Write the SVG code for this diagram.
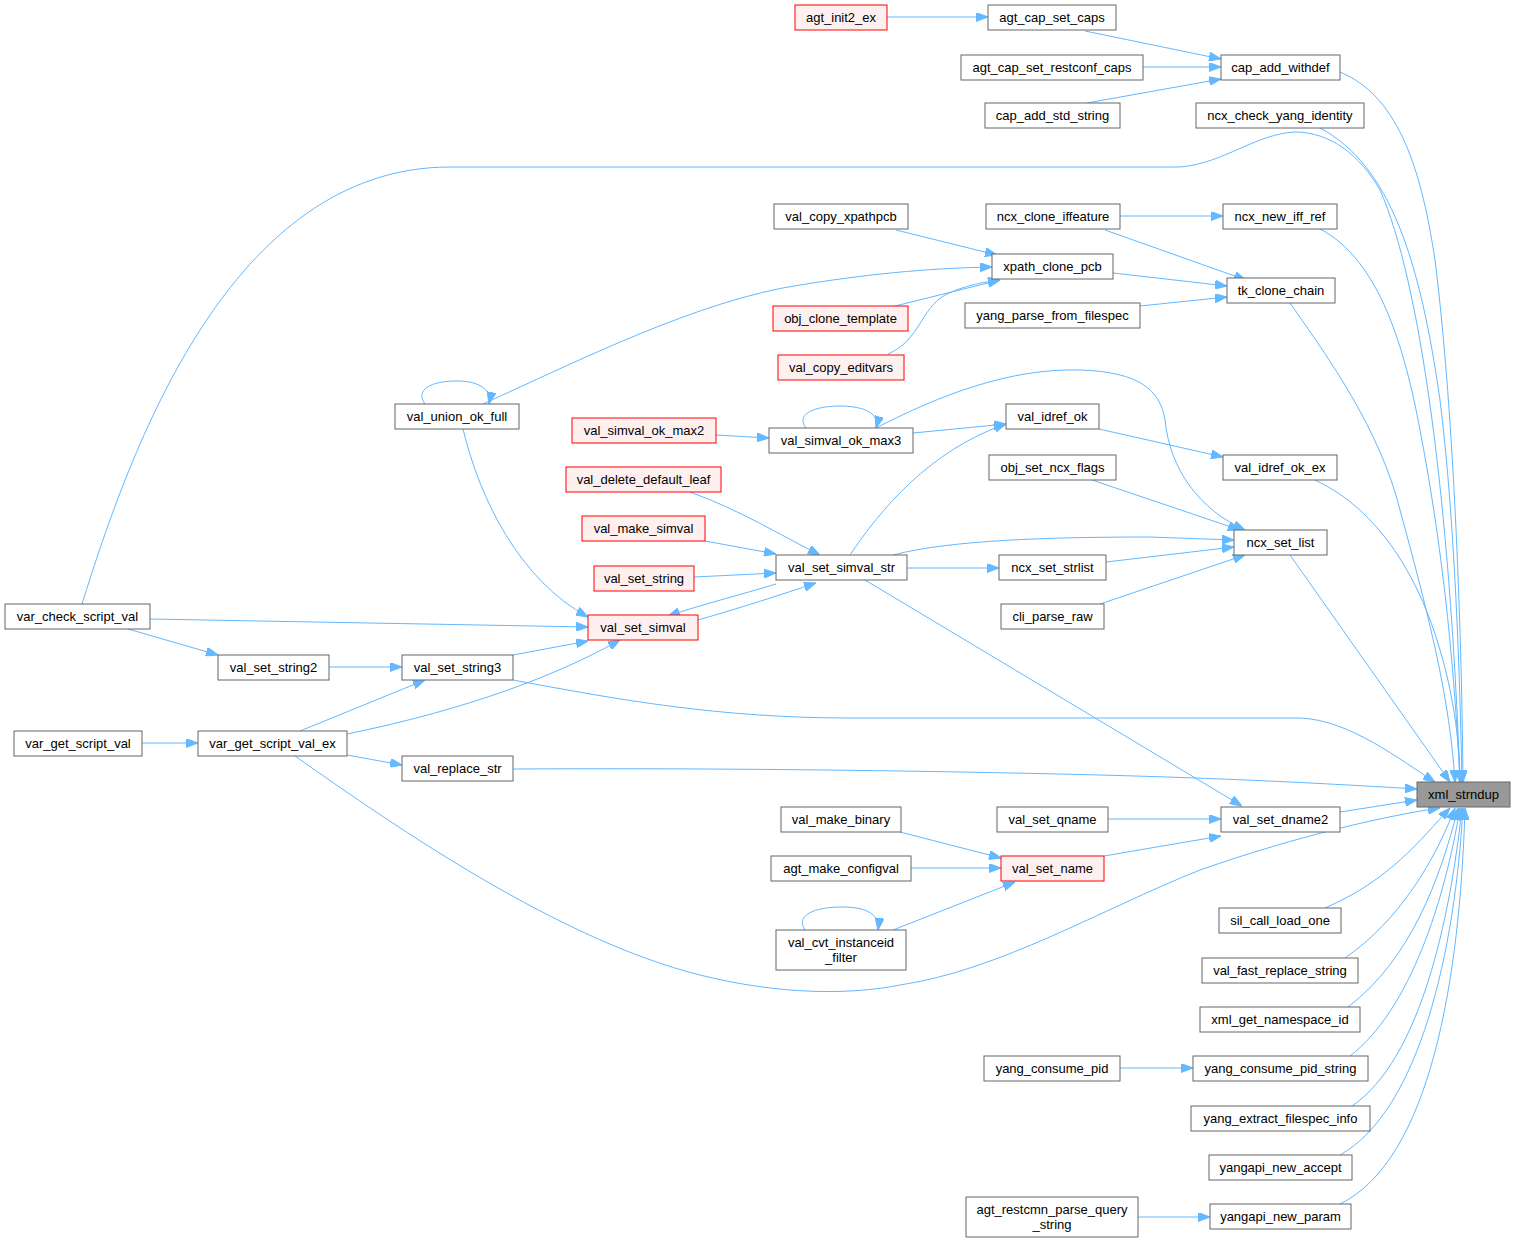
<svg xmlns="http://www.w3.org/2000/svg" width="1516" height="1243" viewBox="0 0 1516 1243">
<style>
.n rect{fill:#fff;stroke:#666;stroke-width:1}
.r rect{fill:#fff0f0;stroke:#f00;stroke-width:1}
.m rect{fill:#999;stroke:#666;stroke-width:1}
text{font-family:"Liberation Sans",Arial,sans-serif;font-size:13px;fill:#000;text-anchor:middle}
#edges path{fill:none;stroke:#63b8ff;stroke-width:1;marker-end:url(#a)}
</style>
<defs>
<marker id="a" markerUnits="userSpaceOnUse" markerWidth="12" markerHeight="9" viewBox="0 0 12 9" refX="12" refY="4.5" orient="auto">
<path d="M0,0 L12,4.5 L0,9 z" fill="#63b8ff" stroke="#63b8ff"/>
</marker>
</defs>
<rect width="1516" height="1243" fill="#fff"/>
<g id="edges">
<path d="M887,17 L988,17"/>
<path d="M1085,31 L1221,59"/>
<path d="M1143,67 L1221,67"/>
<path d="M1087,103 L1221,79"/>
<path d="M1340,72 C1395,95 1420,160 1435,260 C1455,420 1462,650 1463,782"/>
<path d="M1320,128 C1390,165 1420,260 1440,400 C1455,520 1460,680 1462,782"/>
<path d="M82,604 C130,450 230,167 450,167 L1180,167 C1225,163 1255,134 1295,132 C1330,132 1360,155 1380,190 C1420,280 1450,500 1460,782"/>
<path d="M896,230 L997,255"/>
<path d="M1120,216 L1223,216"/>
<path d="M1105,230 L1246,280"/>
<path d="M1320,229 C1380,260 1405,350 1420,430 C1445,560 1455,680 1460,782"/>
<path d="M1113,273 L1227,286"/>
<path d="M1140,306 L1227,297"/>
<path d="M1290,303 C1330,360 1380,430 1400,510 C1430,620 1450,700 1455,782"/>
<path d="M895,306 L1000,280"/>
<path d="M888,354 C920,340 920,310 945,295 C965,285 985,282 1000,280"/>
<path d="M483,404 C580,360 700,300 800,285 C880,272 940,268 992,267"/>
<path d="M425,404 C415,390 430,381 457,381 C480,381 492,390 489,404"/>
<path d="M463,429 C480,500 520,580 588,617"/>
<path d="M716,435 L769,438"/>
<path d="M806,428 C795,414 815,406 840,406 C865,406 880,414 876,428"/>
<path d="M913,433 L1006,424"/>
<path d="M876,428 C940,395 1010,368 1080,370 C1140,372 1160,390 1165,420 C1170,470 1200,510 1245,530"/>
<path d="M1099,429 L1223,457"/>
<path d="M1315,480 C1380,510 1420,580 1440,650 C1455,700 1460,750 1460,782"/>
<path d="M1092,480 L1240,530"/>
<path d="M850,555 C880,510 930,450 1006,424"/>
<path d="M893,555 C950,540 1050,537 1150,537 L1234,540"/>
<path d="M907,568 L999,568"/>
<path d="M1106,562 L1234,547"/>
<path d="M1100,604 L1245,555"/>
<path d="M1290,555 L1450,782"/>
<path d="M690,492 C740,510 780,535 820,555"/>
<path d="M705,541 L776,554"/>
<path d="M694,577 L776,573"/>
<path d="M776,584 C740,595 700,605 668,616"/>
<path d="M698,620 C740,608 780,595 816,583"/>
<path d="M865,580 L1242,806"/>
<path d="M150,619 L588,627"/>
<path d="M128,629 L218,655"/>
<path d="M329,667 L402,667"/>
<path d="M513,655 L588,641"/>
<path d="M513,680 C620,700 720,718 850,718 L1300,718 C1350,720 1400,760 1435,782"/>
<path d="M142,743 L198,743"/>
<path d="M300,731 L425,680"/>
<path d="M347,734 C440,715 540,685 620,640"/>
<path d="M347,755 L402,765"/>
<path d="M295,756 C400,830 560,940 700,975 C780,995 850,995 900,985 C1000,970 1100,910 1200,870 C1300,835 1390,815 1440,808"/>
<path d="M513,769 C700,768 900,770 1100,775 C1250,779 1350,785 1417,789"/>
<path d="M1340,812 L1417,800"/>
<path d="M1108,819 L1221,819"/>
<path d="M900,832 L1001,858"/>
<path d="M911,868 L1001,868"/>
<path d="M893,930 L1015,882"/>
<path d="M805,930 C795,915 815,907 842,907 C868,907 880,915 878,930"/>
<path d="M1104,856 L1221,836"/>
<path d="M1325,908 C1390,880 1420,840 1450,808"/>
<path d="M1345,958 C1400,920 1435,860 1455,808"/>
<path d="M1348,1007 C1410,960 1440,880 1458,808"/>
<path d="M1120,1068 L1193,1068"/>
<path d="M1350,1056 C1410,1010 1445,900 1460,808"/>
<path d="M1352,1106 C1420,1060 1450,920 1462,808"/>
<path d="M1340,1155 C1420,1110 1455,950 1463,808"/>
<path d="M1138,1217 L1210,1217"/>
<path d="M1340,1204 C1430,1160 1460,980 1465,808"/>
</g>
<g id="agt_init2_ex" class="r"><rect x="795" y="5" width="92" height="25"/><text x="841" y="22">agt_init2_ex</text></g>
<g id="agt_cap_set_caps" class="n"><rect x="988" y="5" width="128" height="25"/><text x="1052" y="22">agt_cap_set_caps</text></g>
<g id="cap_add_withdef" class="n"><rect x="1221" y="55" width="119" height="25"/><text x="1280.5" y="72">cap_add_withdef</text></g>
<g id="agt_cap_set_restconf_caps" class="n"><rect x="961" y="55" width="182" height="25"/><text x="1052" y="72">agt_cap_set_restconf_caps</text></g>
<g id="cap_add_std_string" class="n"><rect x="985" y="103" width="135" height="25"/><text x="1052.5" y="120">cap_add_std_string</text></g>
<g id="ncx_check_yang_identity" class="n"><rect x="1196" y="103" width="168" height="25"/><text x="1280" y="120">ncx_check_yang_identity</text></g>
<g id="val_copy_xpathpcb" class="n"><rect x="774" y="204" width="134" height="25"/><text x="841" y="221">val_copy_xpathpcb</text></g>
<g id="ncx_clone_iffeature" class="n"><rect x="986" y="204" width="134" height="25"/><text x="1053" y="221">ncx_clone_iffeature</text></g>
<g id="ncx_new_iff_ref" class="n"><rect x="1223" y="204" width="114" height="25"/><text x="1280" y="221">ncx_new_iff_ref</text></g>
<g id="xpath_clone_pcb" class="n"><rect x="992" y="254" width="121" height="25"/><text x="1052.5" y="271">xpath_clone_pcb</text></g>
<g id="tk_clone_chain" class="n"><rect x="1227" y="278" width="108" height="25"/><text x="1281" y="295">tk_clone_chain</text></g>
<g id="yang_parse_from_filespec" class="n"><rect x="965" y="303" width="175" height="25"/><text x="1052.5" y="320">yang_parse_from_filespec</text></g>
<g id="obj_clone_template" class="r"><rect x="773" y="306" width="135" height="25"/><text x="840.5" y="323">obj_clone_template</text></g>
<g id="val_copy_editvars" class="r"><rect x="778" y="355" width="126" height="25"/><text x="841" y="372">val_copy_editvars</text></g>
<g id="val_union_ok_full" class="n"><rect x="395" y="404" width="124" height="25"/><text x="457" y="421">val_union_ok_full</text></g>
<g id="val_simval_ok_max2" class="r"><rect x="572" y="418" width="144" height="25"/><text x="644" y="435">val_simval_ok_max2</text></g>
<g id="val_simval_ok_max3" class="n"><rect x="769" y="428" width="144" height="25"/><text x="841" y="445">val_simval_ok_max3</text></g>
<g id="val_idref_ok" class="n"><rect x="1006" y="404" width="93" height="25"/><text x="1052.5" y="421">val_idref_ok</text></g>
<g id="val_idref_ok_ex" class="n"><rect x="1223" y="455" width="114" height="25"/><text x="1280" y="472">val_idref_ok_ex</text></g>
<g id="obj_set_ncx_flags" class="n"><rect x="989" y="455" width="127" height="25"/><text x="1052.5" y="472">obj_set_ncx_flags</text></g>
<g id="val_delete_default_leaf" class="r"><rect x="566" y="467" width="155" height="25"/><text x="643.5" y="484">val_delete_default_leaf</text></g>
<g id="val_make_simval" class="r"><rect x="582" y="516" width="123" height="25"/><text x="643.5" y="533">val_make_simval</text></g>
<g id="ncx_set_list" class="n"><rect x="1234" y="530" width="93" height="25"/><text x="1280.5" y="547">ncx_set_list</text></g>
<g id="val_set_simval_str" class="n"><rect x="776" y="555" width="131" height="25"/><text x="841.5" y="572">val_set_simval_str</text></g>
<g id="val_set_string" class="r"><rect x="594" y="566" width="100" height="25"/><text x="644" y="583">val_set_string</text></g>
<g id="ncx_set_strlist" class="n"><rect x="999" y="555" width="107" height="25"/><text x="1052.5" y="572">ncx_set_strlist</text></g>
<g id="cli_parse_raw" class="n"><rect x="1001" y="604" width="103" height="25"/><text x="1052.5" y="621">cli_parse_raw</text></g>
<g id="var_check_script_val" class="n"><rect x="5" y="604" width="145" height="25"/><text x="77.5" y="621">var_check_script_val</text></g>
<g id="val_set_simval" class="r"><rect x="588" y="615" width="110" height="25"/><text x="643" y="632">val_set_simval</text></g>
<g id="val_set_string2" class="n"><rect x="218" y="655" width="111" height="25"/><text x="273.5" y="672">val_set_string2</text></g>
<g id="val_set_string3" class="n"><rect x="402" y="655" width="111" height="25"/><text x="457.5" y="672">val_set_string3</text></g>
<g id="var_get_script_val" class="n"><rect x="14" y="731" width="128" height="25"/><text x="78" y="748">var_get_script_val</text></g>
<g id="var_get_script_val_ex" class="n"><rect x="198" y="731" width="149" height="25"/><text x="272.5" y="748">var_get_script_val_ex</text></g>
<g id="val_replace_str" class="n"><rect x="402" y="756" width="111" height="25"/><text x="457.5" y="773">val_replace_str</text></g>
<g id="xml_strndup" class="m"><rect x="1417" y="782" width="93" height="25"/><text x="1463.5" y="799">xml_strndup</text></g>
<g id="val_make_binary" class="n"><rect x="781" y="807" width="120" height="25"/><text x="841" y="824">val_make_binary</text></g>
<g id="val_set_qname" class="n"><rect x="997" y="807" width="111" height="25"/><text x="1052.5" y="824">val_set_qname</text></g>
<g id="val_set_dname2" class="n"><rect x="1221" y="807" width="119" height="25"/><text x="1280.5" y="824">val_set_dname2</text></g>
<g id="agt_make_configval" class="n"><rect x="771" y="856" width="140" height="25"/><text x="841" y="873">agt_make_configval</text></g>
<g id="val_set_name" class="r"><rect x="1001" y="856" width="103" height="25"/><text x="1052.5" y="873">val_set_name</text></g>
<g id="val_cvt_instanceid_filter" class="n"><rect x="776" y="930" width="130" height="40"/><text x="841" y="947">val_cvt_instanceid</text><text x="841" y="962">_filter</text></g>
<g id="sil_call_load_one" class="n"><rect x="1219" y="908" width="122" height="25"/><text x="1280" y="925">sil_call_load_one</text></g>
<g id="val_fast_replace_string" class="n"><rect x="1202" y="958" width="156" height="25"/><text x="1280" y="975">val_fast_replace_string</text></g>
<g id="xml_get_namespace_id" class="n"><rect x="1200" y="1007" width="160" height="25"/><text x="1280" y="1024">xml_get_namespace_id</text></g>
<g id="yang_consume_pid" class="n"><rect x="984" y="1056" width="136" height="25"/><text x="1052" y="1073">yang_consume_pid</text></g>
<g id="yang_consume_pid_string" class="n"><rect x="1193" y="1056" width="175" height="25"/><text x="1280.5" y="1073">yang_consume_pid_string</text></g>
<g id="yang_extract_filespec_info" class="n"><rect x="1191" y="1106" width="179" height="25"/><text x="1280.5" y="1123">yang_extract_filespec_info</text></g>
<g id="yangapi_new_accept" class="n"><rect x="1209" y="1155" width="143" height="25"/><text x="1280.5" y="1172">yangapi_new_accept</text></g>
<g id="agt_restcmn_parse_query_string" class="n"><rect x="966" y="1197" width="172" height="40"/><text x="1052" y="1214">agt_restcmn_parse_query</text><text x="1052" y="1229">_string</text></g>
<g id="yangapi_new_param" class="n"><rect x="1210" y="1204" width="141" height="25"/><text x="1280.5" y="1221">yangapi_new_param</text></g>
</svg>
